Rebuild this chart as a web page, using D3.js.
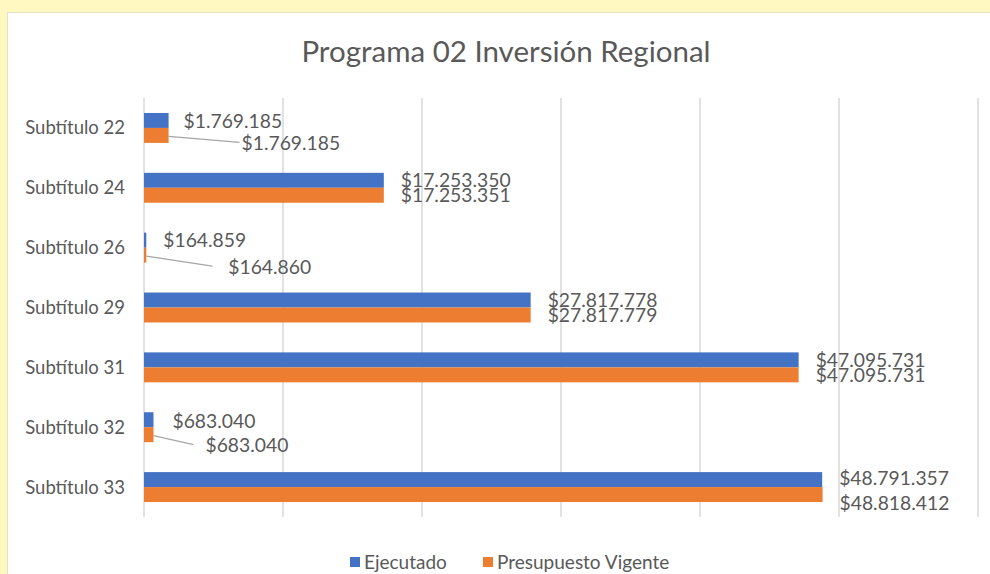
<!DOCTYPE html>
<html>
<head>
<meta charset="utf-8">
<script src="https://cdn.jsdelivr.net/npm/d3@7"></script>
<style>
  html, body { margin: 0; padding: 0; background: #fff8c0; }
  svg { display: block; }
</style>
</head>
<body>
<div id="chart"></div>
<script>
const categories = ["Subtítulo 22", "Subtítulo 24", "Subtítulo 26", "Subtítulo 29", "Subtítulo 31", "Subtítulo 32", "Subtítulo 33"];
const ejecutado = [1769185, 17253350, 164859, 27817778, 47095731, 683040, 48791357];
const presupuesto = [1769185, 17253351, 164860, 27817779, 47095731, 683040, 48818412];
const seriesNames = ["Ejecutado", "Presupuesto Vigente"];
const colors = ["#4472c4", "#ed7d31"];

const width = 990;
const height = 574;
const font = "Lato, 'Open Sans', sans-serif";
const textColor = "#595959";

const svg = d3.select("#chart")
  .append("svg")
  .attr("width", width)
  .attr("height", height);

// white panel over the yellow page
svg.append("rect")
  .attr("x", 7.5).attr("y", 12.5)
  .attr("width", width).attr("height", height)
  .attr("fill", "#fff")
  .attr("stroke", "#e6e2c8");

const margin = { top: 98, right: 12, bottom: 57, left: 144 };

const x = d3.scaleLinear()
  .domain([0, 60000000])
  .range([margin.left, 978]);

const y = d3.scaleBand()
  .domain(categories)
  .range([margin.top, height - margin.bottom])
  .paddingInner(0.5)
  .paddingOuter(0.25);

const fmt = d3.formatLocale({
  decimal: ",", thousands: ".", grouping: [3], currency: ["$", ""]
}).format("$,.0f");

// gridlines
svg.append("g")
  .selectAll("line")
  .data(x.ticks(6))
  .join("line")
  .attr("x1", d => x(d)).attr("x2", d => x(d))
  .attr("y1", margin.top).attr("y2", height - margin.bottom)
  .attr("stroke", "#d9d9d9")
  .attr("stroke-width", 1.5);

// title
svg.append("text")
  .attr("x", 506).attr("y", 62)
  .attr("text-anchor", "middle")
  .attr("font-family", font)
  .attr("font-size", 29.5)
  .attr("fill", textColor)
  .text("Programa 02 Inversión Regional");

// category labels
svg.append("g")
  .selectAll("text")
  .data(categories)
  .join("text")
  .attr("x", 125)
  .attr("y", d => y(d) + y.bandwidth() / 2)
  .attr("dy", "0.35em")
  .attr("text-anchor", "end")
  .attr("font-family", font)
  .attr("font-size", 18.5)
  .attr("fill", textColor)
  .text(d => d);

const sub = d3.scaleBand()
  .domain([0, 1])
  .range([0, y.bandwidth()]);

const rows = categories.map((c, i) => ({ cat: c, vals: [ejecutado[i], presupuesto[i]] }));

// manual label placement for the tiny bars: [dx, dy] per series, plus leader end gap
const nudge = {
  "Subtítulo 22": { lab: [[15, 1], [73, 8]], gap: 2 },
  "Subtítulo 26": { lab: [[17, 0], [82, 12]], gap: 16 },
  "Subtítulo 32": { lab: [[19, 1], [52, 11]], gap: 12 },
  "Subtítulo 33": { lab: [[17, -1.5], [17, 8.5]] }
};

const groups = svg.append("g")
  .selectAll("g")
  .data(rows)
  .join("g")
  .attr("transform", d => `translate(0,${y(d.cat)})`);

groups.selectAll("rect")
  .data(d => d.vals)
  .join("rect")
  .attr("x", x(0))
  .attr("y", (v, j) => sub(j))
  .attr("width", v => Math.max(x(v) - x(0), 1))
  .attr("height", sub.bandwidth())
  .attr("fill", (v, j) => colors[j]);

groups.each(function(d) {
  const g = d3.select(this);
  d.vals.forEach((v, j) => {
    const cy = sub(j) + sub.bandwidth() / 2;
    let lx = x(v) + 17;
    let ly = cy;
    const n = nudge[d.cat];
    if (n) {
      lx = x(v) + n.lab[j][0];
      ly = cy + n.lab[j][1];
      if (j === 1 && n.gap !== undefined) {
        g.append("path")
          .attr("d", `M${x(v)},${cy + 1}L${lx - n.gap},${ly - 1}`)
          .attr("fill", "none")
          .attr("stroke", "#a6a6a6")
          .attr("stroke-width", 1.3);
      }
    }
    g.append("text")
      .attr("x", lx)
      .attr("y", ly)
      .attr("dy", "0.35em")
      .attr("font-family", font)
      .attr("font-size", 19.3)
      .attr("fill", textColor)
      .text(fmt(v));
  });
});

// legend
const legend = svg.append("g")
  .attr("transform", "translate(350,562)");
const legendX = [0, 133];
seriesNames.forEach((name, i) => {
  legend.append("rect")
    .attr("x", legendX[i]).attr("y", -5)
    .attr("width", 10).attr("height", 10)
    .attr("fill", colors[i]);
  legend.append("text")
    .attr("x", legendX[i] + 14).attr("y", 0)
    .attr("dy", "0.35em")
    .attr("font-family", font)
    .attr("font-size", 19)
    .attr("fill", textColor)
    .text(name);
});
</script>
</body>
</html>
